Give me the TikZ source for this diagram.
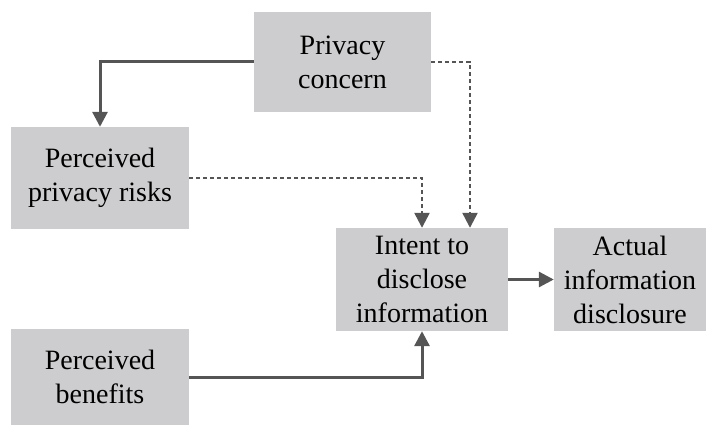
\documentclass[tikz,border=0pt]{standalone}
\usepackage{fontspec}
\setmainfont{Liberation Serif}
\usetikzlibrary{arrows.meta}
\definecolor{boxgray}{HTML}{CDCDCF}
\definecolor{linegray}{HTML}{555555}
\begin{document}
\begin{tikzpicture}[x=1pt,y=-1pt,
  box/.style={fill=boxgray,draw=none,align=center,inner sep=0pt,
    font=\fontsize{28}{34}\selectfont,text=black},
  conn/.style={draw=linegray,line width=3pt,-{Triangle[width=15pt,length=15pt]}},
  dconn/.style={draw=linegray,line width=2.4pt,dash pattern=on 4pt off 3pt,-{Triangle[width=15pt,length=15pt]}}]
\useasboundingbox (0,0) rectangle (708,425);
\node[box,minimum width=177pt,minimum height=100pt] (pc) at (342.5,62) {Privacy\\concern};
\node[box,minimum width=178pt,minimum height=102pt] (ppr) at (100,178) {Perceived\\privacy risks};
\node[box,minimum width=172pt,minimum height=103pt] (itd) at (422,279.5) {Intent to\\disclose\\information};
\node[box,minimum width=152pt,minimum height=103pt] (aid) at (630,279.5) {Actual\\information\\disclosure};
\node[box,minimum width=178pt,minimum height=96pt] (pb) at (100,377) {Perceived\\benefits};
\coordinate (itdn2) at ([xshift=48pt]itd.north);
\draw[conn] (pc.west) -| (ppr.north);
\draw[dconn] (pc.east) -| (itdn2);
\draw[dconn] (ppr.east) -| (itd.north);
\draw[conn] (itd.east) -- (aid.west);
\draw[conn] (pb.east) -| (itd.south);
\end{tikzpicture}
\end{document}
